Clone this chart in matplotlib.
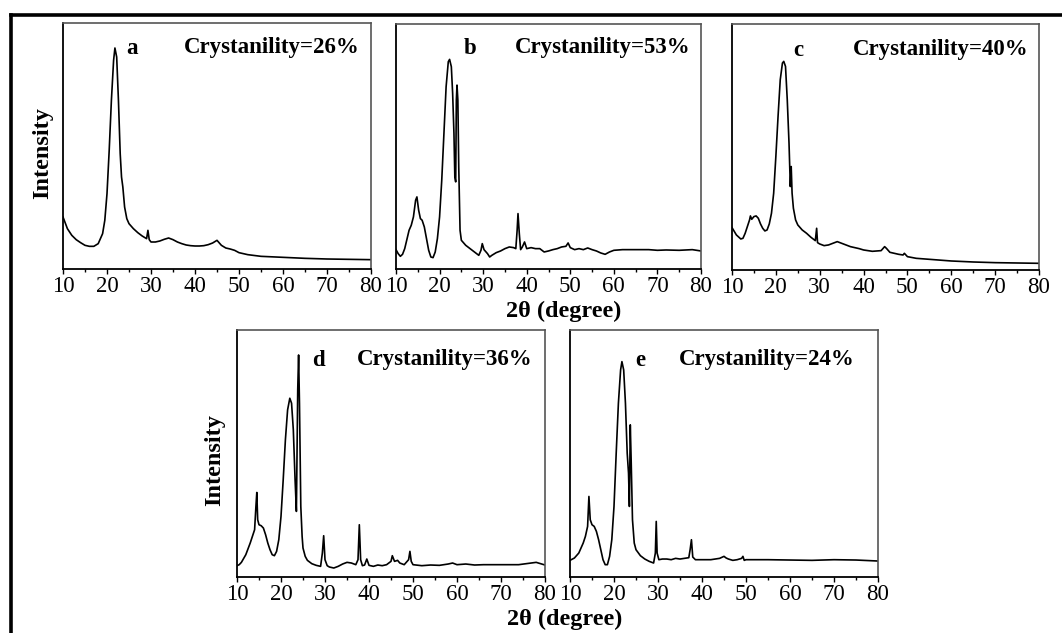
import matplotlib
matplotlib.use("Agg")
import matplotlib.pyplot as plt
from matplotlib.lines import Line2D
from matplotlib.ticker import MultipleLocator

plt.rcParams['font.family'] = ['Liberation Serif', 'DejaVu Serif']

# ---------------- data (arbitrary intensity units) -------------
a_theta = [10, 11, 12, 13, 14, 15, 16, 17, 18, 19, 19.5, 20, 20.5, 21, 21.5, 21.8, 22.2, 22.6,
           23, 23.3, 23.6, 24, 24.5, 25, 26, 27, 28, 29, 29.3, 29.6, 30, 31, 32, 33, 34, 35, 36,
           37, 38, 39, 40, 41, 42, 43, 44, 45, 46, 47, 48, 49, 50, 52, 55, 60, 65, 70, 75, 80]
a_int = [156, 121, 101, 88, 79, 71, 68, 68, 76, 106, 146, 226, 356, 506, 626, 663, 636, 506,
         346, 276, 246, 186, 151, 136, 121, 109, 99, 91, 116, 88, 81, 81, 84, 89, 93, 88, 81,
         76, 72, 70, 69, 69, 70, 73, 78, 86, 71, 63, 60, 56, 49, 43, 38, 35, 32, 30, 29, 28]

b_theta = [10, 10.5, 11, 11.5, 12, 13, 13.5, 14, 14.5, 14.8, 15.2, 15.6, 16, 16.5, 17, 17.5, 18,
           18.5, 19, 19.5, 20, 20.5, 21, 21.5, 22, 22.3, 22.7, 23, 23.3, 23.5, 23.7, 23.85, 24.0,
           24.2, 24.4, 24.7, 25, 26, 27, 28, 29, 29.5, 29.8, 30.2, 31, 31.5, 32, 33, 34, 35, 36,
           37, 37.5, 37.8, 38.0, 38.3, 38.6, 39, 39.5, 40, 41, 42, 43, 44, 45, 46, 47, 48, 49,
           49.5, 50, 51, 52, 53, 54, 55, 56, 57, 58, 59, 60, 62, 65, 68, 70, 72, 75, 78, 80]
b_int = [58, 46, 38, 44, 61, 116, 131, 156, 206, 216, 176, 151, 146, 126, 91, 56, 36,
         34, 51, 91, 156, 266, 406, 546, 621, 628, 606, 526, 406, 276, 261, 506, 551,
         506, 306, 116, 86, 71, 61, 51, 41, 56, 76, 58, 46, 36, 41, 49, 54, 61, 66,
         64, 61, 116, 166, 106, 58, 66, 81, 61, 64, 61, 61, 51, 54, 58, 61, 66, 68,
         78, 64, 58, 61, 58, 63, 58, 54, 48, 44, 51, 56, 58, 58, 58, 56, 57, 56, 58, 54]

c_theta = [10, 11, 12, 12.5, 13, 13.5, 14, 14.2, 14.5, 15, 15.5, 16, 16.5, 17, 17.5, 18, 18.5,
           19, 19.5, 20, 20.5, 21, 21.5, 21.8, 22.2, 22.6, 23, 23.3, 23.5, 23.7, 24, 24.5, 25,
           26, 27, 28, 29, 29.3, 29.5, 30, 31, 32, 33, 34, 35, 36, 37, 38, 39, 40, 41, 42, 43,
           44, 44.8, 45.2, 46, 47, 48, 49, 49.3, 50, 52, 55, 60, 65, 70, 75, 80]
c_int = [127, 105, 93, 95, 110, 130, 150, 162, 152, 160, 162, 155, 138, 125, 117, 120, 138,
         170, 230, 340, 460, 570, 620, 625, 610, 510, 380, 250, 310, 230, 185, 150, 135,
         120, 110, 98, 88, 125, 82, 78, 73, 75, 80, 85, 80, 75, 70, 67, 64, 60, 58, 56, 57,
         58, 70, 65, 53, 50, 47, 45, 50, 40, 35, 32, 27, 24, 22, 21, 20]

d_theta = [10, 10.5, 11, 12, 13, 13.5, 14, 14.3, 14.5, 14.7, 15, 15.5, 16, 16.5, 17, 17.5, 18,
           18.5, 19, 19.5, 20, 20.5, 21, 21.5, 22, 22.4, 22.8, 23.2, 23.5, 23.8, 24.0, 24.2, 24.5,
           24.8, 25, 25.5, 26, 27, 28, 29, 29.4, 29.7, 30.0, 30.5, 31, 32, 33, 34, 35, 36, 37,
           37.5, 37.8, 38.1, 38.5, 39, 39.5, 40, 41, 42, 43, 44, 45, 45.3, 45.8, 46.5, 47, 48,
           49, 49.3, 49.6, 50, 52, 54, 56, 58, 59, 60, 62, 64, 66, 70, 74, 78, 80]
d_int = [34, 37, 44, 67, 102, 122, 142, 212, 254, 172, 157, 154, 147, 127, 102, 82, 67,
         64, 77, 112, 182, 292, 412, 502, 537, 522, 442, 292, 197, 562, 667, 522, 212,
         122, 87, 62, 50, 40, 35, 32, 72, 124, 52, 34, 30, 27, 32, 39, 44, 42, 37,
         52, 157, 52, 34, 36, 54, 35, 32, 36, 34, 37, 47, 64, 47, 50, 42, 37,
         52, 77, 47, 37, 34, 36, 35, 39, 42, 37, 39, 36, 37, 37, 37, 44, 36]

e_theta = [10, 11, 12, 13, 13.5, 14, 14.3, 14.6, 15, 15.5, 16, 16.5, 17, 17.5, 18, 18.5, 19,
           19.5, 20, 20.5, 21, 21.5, 21.8, 22.2, 22.6, 23.0, 23.3, 23.5, 23.7, 23.9, 24.2, 24.6,
           25, 26, 27, 28, 29, 29.4, 29.6, 29.8, 30.2, 31, 32, 33, 34, 35, 36, 37, 37.3, 37.6,
           37.9, 38.5, 40, 42, 44, 45, 45.5, 46, 47, 48, 49, 49.3, 49.6, 50, 55, 60, 65, 70, 75, 80]
e_int = [50, 57, 72, 102, 122, 152, 242, 172, 157, 152, 137, 112, 82, 52, 37, 37, 62,
         112, 212, 372, 522, 622, 647, 622, 522, 372, 312, 212, 457, 352, 172, 102,
         82, 64, 54, 47, 42, 72, 167, 72, 52, 54, 54, 52, 56, 54, 56, 58, 82, 112,
         60, 52, 52, 52, 56, 62, 57, 54, 50, 52, 56, 62, 50, 52, 52, 51, 50, 52, 51, 48]

letters = ['a', 'b', 'c', 'd', 'e']
crystallinity = ['Crystanility=26%', 'Crystanility=53%', 'Crystanility=40%',
                 'Crystanility=36%', 'Crystanility=24%']
xticks = [10, 20, 30, 40, 50, 60, 70, 80]
ylabel_text = 'Intensity'
xlabel_text = '2\u03b8 (degree)'

# ---------------- layout ----------------
W, H = 1062, 633
fig = plt.figure(figsize=(W / 100, H / 100), dpi=100)


def box(l, t, r, b):
    return [l / W, 1 - b / H, (r - l) / W, (b - t) / H]


panels = [
    (box(63, 23, 371, 269), a_theta, a_int, 738, 132, 48, 360),
    (box(396, 24, 701, 269), b_theta, b_int, 734, 470, 48, 690),
    (box(732, 24, 1039, 270), c_theta, c_int, 737, 798, 50, 1028),
    (box(237, 330, 545, 577), d_theta, d_int, 742, 318, 360, 532),
    (box(570, 330, 878, 577), e_theta, e_int, 742, 640, 360, 855),
]

for i, (rect, xs, ys, ytop, lx, ly, rx) in enumerate(panels):
    ax = fig.add_axes(rect)
    ax.plot(xs, ys, color='black', lw=1.2)
    ax.set_xlim(10, 80)
    ax.set_ylim(0, ytop)
    ax.set_xticks(xticks)
    ax.xaxis.set_minor_locator(MultipleLocator(5))
    ax.set_yticks([])
    ax.tick_params(axis='x', which='major', direction='out', length=3.8, width=1.0,
                   pad=1.5, labelsize=16.5, colors='black')
    ax.tick_params(axis='x', which='minor', direction='out', length=2.0, width=1.0)
    for s in ('top', 'right'):
        ax.spines[s].set_color('#555555')
        ax.spines[s].set_linewidth(1.2)
    for s in ('bottom', 'left'):
        ax.spines[s].set_color('black')
        ax.spines[s].set_linewidth(1.3)
    fig.text(lx / W, 1 - ly / H, letters[i], ha='center', va='center',
             fontsize=16.5, fontweight='bold')
    fig.text(rx / W, 1 - ly / H, crystallinity[i], ha='right', va='center',
             fontsize=16.5, fontweight='bold')

# y labels
fig.text(43 / W, 1 - 153 / H, ylabel_text, rotation=90, ha='center', va='center',
         fontsize=17.5, fontweight='bold')
fig.text(215 / W, 1 - 460 / H, ylabel_text, rotation=90, ha='center', va='center',
         fontsize=17.5, fontweight='bold')
# x labels
fig.text(564 / W, 1 - 311 / H, xlabel_text, ha='center', va='center',
         fontsize=17.5, fontweight='bold')
fig.text(565 / W, 1 - 619 / H, xlabel_text, ha='center', va='center',
         fontsize=17.5, fontweight='bold')

# outer frame (top and left edges visible)
fig.add_artist(Line2D([10.5 / W, 1.0], [1 - 14.5 / H, 1 - 14.5 / H], color='black', lw=2.6,
                      transform=fig.transFigure, solid_capstyle='projecting'))
fig.add_artist(Line2D([10.5 / W, 10.5 / W], [1 - 14.5 / H, 0.0], color='black', lw=2.6,
                      transform=fig.transFigure, solid_capstyle='projecting'))

fig.savefig('out.png', dpi=100)
